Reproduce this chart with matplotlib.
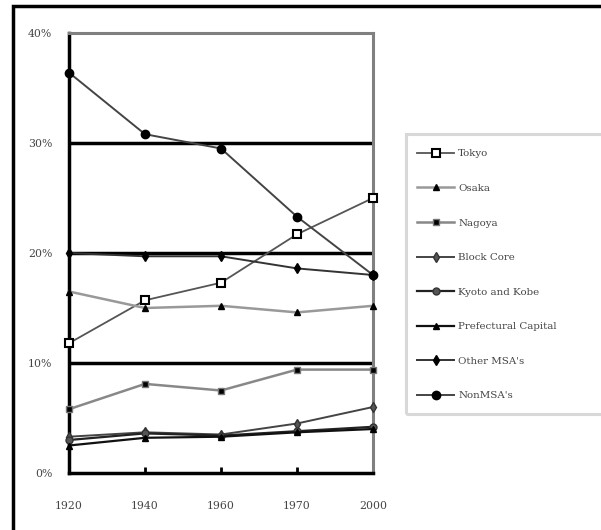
import matplotlib
matplotlib.use("Agg")
import matplotlib.pyplot as plt
from matplotlib.patches import Rectangle

years = ["1920", "1940", "1960", "1970", "2000"]
tokyo = [11.8, 15.7, 17.3, 21.7, 25.0]
osaka = [16.5, 15.0, 15.2, 14.6, 15.2]
nagoya = [5.8, 8.1, 7.5, 9.4, 9.4]
block_core = [3.3, 3.7, 3.5, 4.5, 6.0]
kyoto_kobe = [3.0, 3.6, 3.4, 3.8, 4.2]
pref_capital = [2.5, 3.2, 3.3, 3.7, 4.0]
other_msa = [20.0, 19.7, 19.7, 18.6, 18.0]
non_msa = [36.4, 30.8, 29.5, 23.3, 18.0]
labels = ["Tokyo", "Osaka", "Nagoya", "Block Core", "Kyoto and Kobe",
          "Prefectural Capital", "Other MSA's", "NonMSA's"]
yticks = [0, 10, 20, 30, 40]
ytick_labels = ["0%", "10%", "20%", "30%", "40%"]

W, H = 601, 530
fig = plt.figure(figsize=(W / 100, H / 100), dpi=100)
fig.patch.set_facecolor("white")

# outer frame (only left/top visible)
fig.patches.append(Rectangle((13 / W, -0.1), 1.2, 1 - 6 / H + 0.1,
                             transform=fig.transFigure, fill=False,
                             edgecolor="black", linewidth=2.5))

ax = fig.add_axes([69 / W, (H - 473) / H, (373 - 69) / W, (473 - 33) / H])
x = list(range(len(years)))

styles = [
    (tokyo, dict(color="#555555", lw=1.3, marker="s", ms=5.5, mfc="white", mec="black", mew=1.5)),
    (osaka, dict(color="#999999", lw=1.8, marker="^", ms=5, mfc="black", mec="black")),
    (nagoya, dict(color="#888888", lw=1.8, marker="s", ms=4, mfc="black", mec="#777777")),
    (block_core, dict(color="#444444", lw=1.4, marker="d", ms=5, mfc="#555555", mec="#333333")),
    (kyoto_kobe, dict(color="#222222", lw=1.6, marker="o", ms=5, mfc="#555555", mec="#333333")),
    (pref_capital, dict(color="#111111", lw=1.6, marker="^", ms=5, mfc="black", mec="black")),
    (other_msa, dict(color="#333333", lw=1.4, marker="d", ms=5.5, mfc="black", mec="black")),
    (non_msa, dict(color="#444444", lw=1.4, marker="o", ms=6, mfc="black", mec="black")),
]
handles = []
for (vals, st), lab in zip(styles, labels):
    ln, = ax.plot(x, vals, label=lab, zorder=3, clip_on=False, **st)
    handles.append(ln)

ax.set_xlim(0, len(years) - 1)
ax.set_ylim(0, 40)
for g in [10, 20, 30]:
    ax.axhline(g, color="black", lw=2.5, zorder=2)

ax.set_xticks(x)
ax.set_xticklabels(years)
ax.set_yticks(yticks)
ax.set_yticklabels(ytick_labels)
for t in ax.get_xticklabels() + ax.get_yticklabels():
    t.set_fontfamily("DejaVu Serif")
    t.set_fontsize(7.8)
    t.set_color("#444444")
ax.tick_params(axis="x", direction="in", length=4, width=2, pad=20, color="black")
ax.tick_params(axis="y", length=0, pad=12)

for s in ["left", "bottom"]:
    ax.spines[s].set_color("black")
    ax.spines[s].set_linewidth(2.5)
for s in ["top", "right"]:
    ax.spines[s].set_color("#808080")
    ax.spines[s].set_linewidth(2.2)

# legend box
fig.patches.append(Rectangle((406 / W, 1 - 414 / H), 0.5, (414 - 134) / H,
                             transform=fig.transFigure, fill=False,
                             edgecolor="#d8d8d8", linewidth=2.2))
leg = fig.legend(handles=handles, labels=labels, loc="upper left",
                 bbox_to_anchor=(409 / W, 1 - 141 / H), frameon=False,
                 prop=dict(family="DejaVu Serif", size=7.4),
                 handlelength=3.6, handletextpad=0.4, labelspacing=2.47,
                 borderpad=0.3, markerscale=1.0)
for t in leg.get_texts():
    t.set_color("#444444")

fig.savefig("out.png", dpi=100)
